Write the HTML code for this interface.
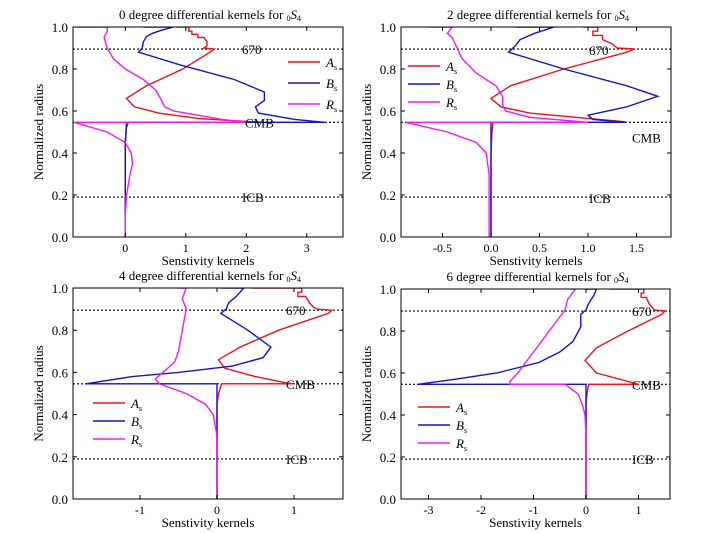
<!DOCTYPE html>
<html><head><meta charset="utf-8"><style>
body{margin:0;background:#fff;}
svg{display:block;font-family:"Liberation Serif",serif;}
</style></head><body>
<svg id="fig" width="719" height="533"></svg>
<script>
// ---- data (r = normalized radius, x = kernel value) ----
const rA0=[1.0,1.0,0.98,0.98,0.965,0.965,0.95,0.95,0.93,0.91,0.9,0.895,0.88,0.8,0.72,0.66,0.62,0.59,0.565,0.55,0.546,0.546,0.52,0.45,0];
const xA0=[0.85,1.05,1.05,1.1,1.1,1.2,1.2,1.3,1.35,1.35,1.3,1.47,1.4,0.95,0.35,0.02,0.15,0.55,1.2,2.0,2.3,0.05,0.02,0.0,0.0];
const rB0=[1.0,1.0,0.985,0.97,0.955,0.93,0.9,0.88,0.82,0.75,0.69,0.65,0.62,0.59,0.56,0.546,0.546,0.45,0];
const xB0=[0.3,0.8,0.6,0.45,0.35,0.3,0.28,0.22,0.9,1.8,2.3,2.3,2.15,2.2,2.8,3.3,0.02,0.0,0.0];
const rR0=[1.0,1.0,0.98,0.95,0.9,0.85,0.8,0.75,0.7,0.65,0.62,0.6,0.58,0.56,0.55,0.546,0.546,0.5,0.45,0.4,0.35,0.3,0.2,0.1,0];
const xR0=[-0.8,-0.3,-0.3,-0.35,-0.3,-0.2,0.0,0.3,0.5,0.6,0.65,0.8,1.2,1.6,1.9,2.0,-0.85,-0.3,0.0,0.1,0.12,0.08,0.02,0.0,0.0];

const rA2=[1.0,1.0,0.98,0.98,0.96,0.96,0.94,0.92,0.9,0.895,0.88,0.8,0.72,0.66,0.62,0.59,0.565,0.55,0.546,0.546,0.5,0.4,0];
const xA2=[0.95,1.1,1.1,1.05,1.05,1.15,1.15,1.25,1.3,1.48,1.4,0.75,0.2,0.0,0.1,0.4,1.0,1.35,1.4,0.02,0.01,0.0,0.0];
const rB2=[1.0,1.0,0.985,0.97,0.94,0.91,0.88,0.8,0.72,0.67,0.62,0.58,0.56,0.546,0.546,0.35,0];
const xB2=[0.25,0.65,0.55,0.45,0.3,0.25,0.18,0.75,1.4,1.72,1.4,1.0,1.05,1.4,0.0,0.0,0.0];
const rR2=[1.0,1.0,0.97,0.95,0.9,0.85,0.78,0.72,0.67,0.63,0.6,0.57,0.55,0.546,0.546,0.5,0.45,0.4,0.3,0];
const xR2=[-0.65,-0.4,-0.45,-0.4,-0.35,-0.3,-0.15,0.05,0.12,0.12,0.15,0.4,0.9,1.0,-0.88,-0.45,-0.15,-0.05,-0.02,-0.02];

const rA4=[1.0,1.0,0.98,0.98,0.96,0.96,0.93,0.91,0.9,0.895,0.88,0.8,0.72,0.66,0.62,0.58,0.55,0.546,0.546,0.5,0.45,0];
const xA4=[0.45,1.1,1.1,1.05,1.05,1.15,1.2,1.25,1.3,1.49,1.45,0.8,0.3,0.02,0.1,0.5,0.9,1.0,0.06,0.02,0.0,0.0];
const rB4=[1.0,1.0,0.98,0.96,0.93,0.9,0.88,0.8,0.72,0.67,0.63,0.6,0.58,0.546,0.546,0.3,0];
const xB4=[0.05,0.35,0.3,0.25,0.15,0.12,0.05,0.4,0.7,0.6,0.2,-0.5,-1.1,-1.7,0.0,0.0,0.0];
const rR4=[1.0,1.0,0.95,0.9,0.8,0.7,0.65,0.6,0.57,0.546,0.5,0.45,0.4,0.3,0];
const xR4=[-0.5,-0.4,-0.45,-0.4,-0.45,-0.5,-0.55,-0.7,-0.8,-0.75,-0.4,-0.15,-0.05,0.0,0.0];

const rA6=[1.0,1.0,0.98,0.98,0.96,0.96,0.93,0.9,0.895,0.88,0.8,0.72,0.66,0.6,0.56,0.546,0.546,0.5,0.45,0];
const xA6=[0.45,1.1,1.1,1.05,1.05,1.15,1.2,1.3,1.5,1.45,0.8,0.2,-0.02,0.2,0.8,1.0,0.05,0.02,0.0,0.0];
const rB6=[1.0,1.0,0.97,0.93,0.9,0.88,0.82,0.75,0.7,0.65,0.6,0.57,0.546,0.546,0.3,0];
const xB6=[0.0,0.2,0.15,0.05,0.0,-0.1,-0.1,-0.25,-0.5,-0.9,-1.7,-2.5,-3.2,0.0,0.0,0.0];
const rR6=[1.0,1.0,0.95,0.9,0.85,0.75,0.65,0.6,0.56,0.546,0.546,0.5,0.45,0.4,0.3,0];
const xR6=[-0.3,-0.2,-0.35,-0.4,-0.55,-0.85,-1.15,-1.3,-1.45,-1.45,-0.4,-0.15,-0.07,-0.02,0.0,0.0];

const ticks0=[0,1,2,3], tickLabels0=["0","1","2","3"];
const ticks2=[-0.5,0,0.5,1.0,1.5], tickLabels2=["-0.5","0.0","0.5","1.0","1.5"];
const ticks4=[-1,0,1], tickLabels4=["-1","0","1"];
const ticks6=[-3,-2,-1,0,1], tickLabels6=["-3","-2","-1","0","1"];
const yTicks=[0,0.2,0.4,0.6,0.8,1.0], yTickLabels=["0.0","0.2","0.4","0.6","0.8","1.0"];
const boundaryR=[0.895,0.546,0.19], boundaryNames=["670","CMB","ICB"];

const NS="http://www.w3.org/2000/svg";
const svg=document.getElementById('fig');
function mk(t,a,p){const e=document.createElementNS(NS,t);for(const k in a)e.setAttribute(k,a[k]);(p||svg).appendChild(e);return e;}

const panels=[
 {deg:0,L:73,R:343,T:27,B:237,x0:125.3,k:60.5,ticks:ticks0,tl:tickLabels0,S:[[rA0,xA0],[rB0,xB0],[rR0,xR0]],
  leg:{x:288,y:62,dy:21,lx:-1},lab:[[242,0],[245,0],[242,0]],labDy:[5,5,5]},
 {deg:2,L:401,R:671,T:27,B:237,x0:491,k:97,ticks:ticks2,tl:tickLabels2,S:[[rA2,xA2],[rB2,xB2],[rR2,xR2]],
  leg:{x:408,y:66,dy:18},lab:[[589,0],[632,0],[589,0]],labDy:[6,20,6]},
 {deg:4,L:73,R:343,T:288,B:499,x0:217,k:77,ticks:ticks4,tl:tickLabels4,S:[[rA4,xA4],[rB4,xB4],[rR4,xR4]],
  leg:{x:93,y:403,dy:18},lab:[[286,0],[286,0],[286,0]],labDy:[5,5,5]},
 {deg:6,L:401,R:670,T:289,B:499,x0:586,k:52.5,ticks:ticks6,tl:tickLabels6,S:[[rA6,xA6],[rB6,xB6],[rR6,xR6]],
  leg:{x:418,y:407,dy:18},lab:[[632,0],[632,0],[632,0]],labDy:[5,5,5]}
];
const colors=["#e8141b","#1414c8","#f01cf0"], names=["A","B","R"], sNames=["a-s","b-s","r-s"];

panels.forEach(P=>{
  const g=mk('g',{});
  
  
  const X=v=>P.x0+v*P.k, Y=r=>P.B-r*(P.B-P.T);
  const cp='cp'+P.deg;
  const cpe=mk('clipPath',{id:cp},g);mk('rect',{x:P.L,y:P.T,width:P.R-P.L,height:P.B-P.T},cpe);
  // boundaries
  boundaryR.forEach((r,i)=>{
    const l=mk('line',{x1:P.L,x2:P.R,y1:Y(r),y2:Y(r),stroke:'#000','stroke-width':1.1,'stroke-dasharray':'2,2'},g);
    
    
  });
  // series
  P.S.forEach((s,i)=>{
    let d='';s[0].forEach((r,j)=>{d+=(j?'L':'M')+X(s[1][j]).toFixed(1)+','+Y(r).toFixed(1);});
    const p=mk('path',{d:d,fill:'none',stroke:colors[i],'stroke-width':1.4,'clip-path':'url(#'+cp+')'},g);
    
    
  });
  // boundary labels
  boundaryR.forEach((r,i)=>{
    const t=mk('text',{x:P.lab[i][0],y:Y(r)+P.labDy[i],'font-size':13},g);t.textContent=boundaryNames[i];
    
    
  });
  // frame
  const f=mk('rect',{x:P.L,y:P.T,width:P.R-P.L,height:P.B-P.T,fill:'none',stroke:'#000','stroke-width':1},g);
  
  
  // x ticks
  P.ticks.forEach((v,i)=>{
    mk('line',{x1:X(v),x2:X(v),y1:P.B,y2:P.B-4,stroke:'#000'},g);
    mk('line',{x1:X(v),x2:X(v),y1:P.T,y2:P.T+4,stroke:'#000'},g);
    const t=mk('text',{x:X(v),y:P.B+15,'font-size':12,'text-anchor':'middle'},g);t.textContent=P.tl[i];
    
    
  });
  yTicks.forEach((v,i)=>{
    mk('line',{x1:P.L,x2:P.L+4,y1:Y(v),y2:Y(v),stroke:'#000'},g);
    mk('line',{x1:P.R,x2:P.R-4,y1:Y(v),y2:Y(v),stroke:'#000'},g);
    const t=mk('text',{x:P.L-5,y:Y(v)+5,'font-size':13,'text-anchor':'end'},g);t.textContent=yTickLabels[i];
    
    
  });
  // titles
  const tt=mk('text',{x:(P.L+P.R)/2+2,y:P.T-8,'font-size':13,'text-anchor':'middle'},g);
  tt.innerHTML=P.deg+' degree differential kernels for <tspan font-size="8" dy="2">0</tspan><tspan font-style="italic" dy="-2">S</tspan><tspan font-size="8" dy="2">4</tspan>';
  
  
  const xl=mk('text',{x:(P.L+P.R)/2,y:P.B+28,'font-size':13,'text-anchor':'middle'},g);xl.textContent='Senstivity kernels';
  
  
  const cy=(P.T+P.B)/2, cx=P.L-30;
  const yl=mk('text',{x:cx,y:cy,'font-size':13,'text-anchor':'middle',transform:'rotate(-90 '+cx+' '+cy+')'},g);yl.textContent='Normalized radius';
  
  
  // legend
  names.forEach((n,i)=>{
    const y=P.leg.y+i*P.leg.dy;
    const e=mk('g',{},g);
    
    
    mk('line',{x1:P.leg.x,x2:P.leg.x+32,y1:y,y2:y,stroke:colors[i],'stroke-width':1.5},e);
    const t=mk('text',{x:P.leg.x+38,y:y+5,'font-size':13,'font-style':'italic'},e);
    t.innerHTML=n+'<tspan font-size="8" font-style="normal" dy="3">s</tspan>';
  });
});
</script>
</body></html>
